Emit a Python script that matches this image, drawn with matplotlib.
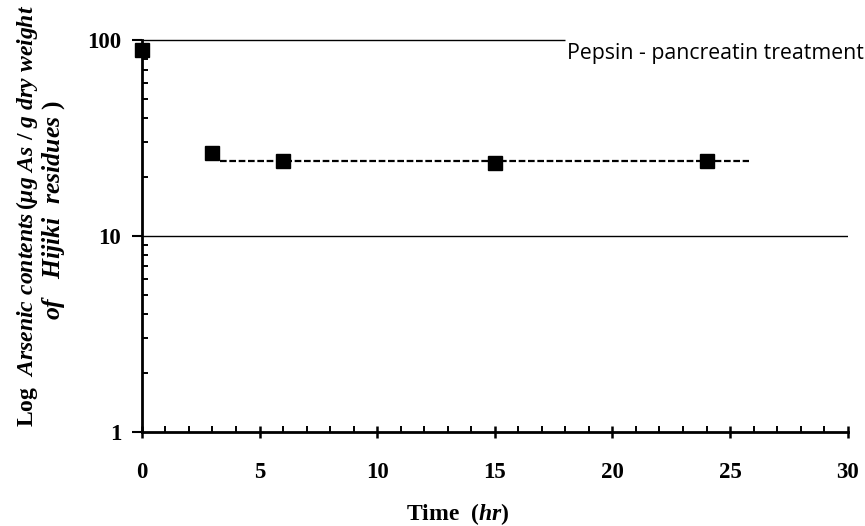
import matplotlib
matplotlib.use("Agg")
import matplotlib.pyplot as plt
from matplotlib.ticker import FixedLocator, LogLocator, NullFormatter

# Datos
tiempo = [0, 3, 6, 15, 24]
arsenico = [89, 26.5, 24.0, 23.6, 24.0]
ajuste_x = [3.3, 25.8]
ajuste_y = [24.0, 24.0]
ticks_x = [0, 5, 10, 15, 20, 25, 30]
ticks_y = [1, 10, 100]
etiqueta = "Pepsin - pancreatin treatment"

plt.rcParams['font.family'] = 'Liberation Serif'
plt.rcParams['font.weight'] = 'bold'
plt.rcParams['mathtext.fontset'] = 'custom'
plt.rcParams['mathtext.rm'] = 'Liberation Serif:bold'
plt.rcParams['mathtext.it'] = 'Liberation Serif:italic:bold'
plt.rcParams['mathtext.bf'] = 'Liberation Serif:bold'

fig = plt.figure(figsize=(8.65, 5.26), dpi=100)
ax = fig.add_axes([0.164, 0.179, 0.816, 0.745])

ax.set_yscale('log')
ax.set_xlim(0, 30)
ax.set_ylim(1, 100)

# lineas de referencia horizontales
ax.axhline(10, color='black', lw=1.0, zorder=1)
ax.hlines(100, 0, 18, color='black', lw=1.0, zorder=1, clip_on=False)

ax.plot(ajuste_x, ajuste_y, color='black', lw=1.6, ls=(0, (3, 1.2)), zorder=2)
ax.plot(tiempo, arsenico, ls='none', marker='s', ms=10, color='black',
        clip_on=False, zorder=3)

for lado in ['top', 'right']:
    ax.spines[lado].set_visible(False)
for lado in ['left', 'bottom']:
    ax.spines[lado].set_linewidth(2.0)

ax.set_xticks(ticks_x, [str(v) for v in ticks_x])
ax.set_yticks(ticks_y, [str(v) for v in ticks_y])
ax.xaxis.set_minor_locator(FixedLocator(range(0, 31)))
ax.yaxis.set_minor_locator(LogLocator(base=10, subs=range(2, 10)))
ax.yaxis.set_minor_formatter(NullFormatter())

ax.tick_params(axis='both', which='major', labelsize=16.5)
ax.tick_params(axis='x', which='major', direction='inout', length=9, width=1.8, pad=17)
ax.tick_params(axis='x', which='minor', direction='in', length=4, width=1.4)
ax.tick_params(axis='y', which='major', direction='out', length=7, width=1.5, pad=8)
ax.tick_params(axis='y', which='minor', direction='in', length=4, width=1.4)

ax.text(18.05, 97, etiqueta, fontsize=15.3, fontfamily='Open Sans',
        fontweight='normal', va='top', ha='left', clip_on=False)

fig.text(0.529, 0.012, r'$\mathrm{Time}\ \ \mathrm{(}\mathit{hr}\mathrm{)}$',
         fontsize=17, ha='center', va='baseline')

fig.text(0.031, 0.59,
         r'$\mathrm{Log}\ \ \mathit{Arsenic\ contents}\,\mathrm{(}\mathit{\mu g\ As\ /\ g\ dry\ weight}$',
         fontsize=17, rotation=90, ha='center', va='center')
fig.text(0.062, 0.60,
         r'$\mathit{of\ \ \ Hijiki\ \ residues}\ \mathrm{)}$',
         fontsize=18.5, rotation=90, ha='center', va='center')

fig.savefig('out.png', dpi=100)
